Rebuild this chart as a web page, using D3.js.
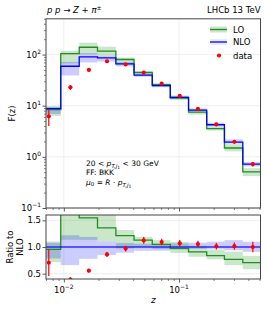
<!DOCTYPE html>
<html><head><meta charset="utf-8">
<script src="https://cdn.jsdelivr.net/npm/d3@7"></script>
<style>
body{margin:0;background:#fff}
svg{display:block}
text{font-family:"DejaVu Sans",sans-serif;fill:#000}
</style></head>
<body><svg id="c" width="267" height="312"></svg>
<script>
// ---- data ----
const binEdges = [0.0065, 0.0094, 0.0136, 0.0196, 0.0283, 0.0407, 0.0586, 0.084, 0.121, 0.174, 0.248, 0.358, 0.52];
const nloVal = [8.8, 59, 90, 86, 66, 39.5, 24.7, 14.5, 8.2, 4.24, 1.94, 0.72];
const nloLow = [6.9, 39, 70, 73, 59, 36.7, 23, 13.8, 7.9, 4.07, 1.82, 0.655];
const nloHigh = [9.5, 72, 107, 95, 71, 41.9, 26.2, 15.5, 8.86, 4.66, 2.19, 0.79];
const loVal = [8.4, 104, 139, 117, 80, 44.6, 25.9, 14.1, 7.46, 3.56, 1.49, 0.51];
const loLow = [6.3, 67, 102, 95, 64, 39.5, 23.7, 12.9, 6.7, 3.26, 1.28, 0.42];
const loHigh = [9.7, 118, 171, 142, 87, 47, 27.9, 15.9, 8.4, 4.03, 1.77, 0.60];
const dataZ = [0.0074, 0.0114, 0.0165, 0.0237, 0.0344, 0.0494, 0.0707, 0.1015, 0.146, 0.211, 0.3025, 0.4375];
const dataVal = [6.2, 22.9, 50, 74, 64, 44.4, 27, 15.5, 8.65, 4.3, 1.97, 0.72];
const dataErr = [2.2, 2.5, 3, 4, 3.5, 2.5, 1.5, 0.9, 0.5, 0.25, 0.13, 0.07];
const xMajorTicks = [0.01, 0.1];
const yMainMajor = [0.1, 1, 10, 100];
const yRatioTicks = [0.5, 1.0, 1.5];
const legendLabels = ["LO", "NLO", "data"];

// ---- layout ----
const svg = d3.select("#c");
const L = 46, R = 260.5;
const mainTop = 18.8, mainBot = 208, ratTop = 215, ratBot = 279;
const cLO = "#228b22", cLOband = "#2ca02c", cNLO = "#0000ff", cData = "#ff0000";

const x = d3.scaleLog().domain([0.007, 0.51]).range([L, R]);
const y = d3.scaleLog().domain([0.1, 500]).range([mainBot, mainTop]);
const yr = d3.scaleLinear().domain([0.4, 1.6]).range([ratBot, ratTop]);

const defs = svg.append("defs");
defs.append("clipPath").attr("id", "cm").append("rect").attr("x", L).attr("y", mainTop).attr("width", R - L).attr("height", mainBot - mainTop);
defs.append("clipPath").attr("id", "cr").append("rect").attr("x", L).attr("y", ratTop).attr("width", R - L).attr("height", ratBot - ratTop);

function minorX() {
  const t = [];
  for (let k = -3; k <= 0; k++) for (let m = 2; m <= 9; m++) {
    const v = m * Math.pow(10, k);
    if (v >= 0.007 && v <= 0.51) t.push(v);
  }
  return t;
}
function minorY() {
  const t = [];
  for (let k = -1; k <= 2; k++) for (let m = 2; m <= 9; m++) {
    const v = m * Math.pow(10, k);
    if (v <= 500) t.push(v);
  }
  return t;
}
function supLabel(sel, base, exp) {
  sel.text(base);
  sel.append("tspan").attr("dy", -4).attr("font-size", 6).text(exp);
}

function panel(g, ys, clip, top, bot, isMain) {
  // grid
  const grid = g.append("g").attr("stroke", "#ebebeb").attr("stroke-width", 0.8);
  xMajorTicks.forEach(v => grid.append("line").attr("x1", x(v)).attr("x2", x(v)).attr("y1", top).attr("y2", bot));
  (isMain ? yMainMajor : yRatioTicks).forEach(v => grid.append("line").attr("x1", L).attr("x2", R).attr("y1", ys(v)).attr("y2", ys(v)));
}

// ---------- MAIN PANEL ----------
const gm = svg.append("g");
panel(gm, y, "cm", mainTop, mainBot, true);
const pm = gm.append("g").attr("clip-path", "url(#cm)");

function bands(g, ys, lo, hi, color, op) {
  g.append("g").selectAll("rect").data(lo).join("rect")
    .attr("x", (d, i) => x(binEdges[i]))
    .attr("width", (d, i) => x(binEdges[i + 1]) - x(binEdges[i]))
    .attr("y", (d, i) => ys(hi[i]))
    .attr("height", (d, i) => Math.max(0, ys(lo[i]) - ys(hi[i])))
    .attr("fill", color).attr("fill-opacity", op);
}
function stepLine(g, ys, vals, color, w, op) {
  const pts = [];
  vals.forEach((v, i) => { pts.push([binEdges[i], v]); pts.push([binEdges[i + 1], v]); });
  g.append("path").attr("d", d3.line().x(d => x(d[0])).y(d => ys(d[1]))(pts))
    .attr("fill", "none").attr("stroke", color).attr("stroke-width", w).attr("stroke-opacity", op || 1);
}
function dataPts(g, ys, vals, errs) {
  const gg = g.append("g");
  gg.selectAll("line").data(vals).join("line")
    .attr("x1", (d, i) => x(dataZ[i])).attr("x2", (d, i) => x(dataZ[i]))
    .attr("y1", (d, i) => ys(d + errs[i])).attr("y2", (d, i) => ys(Math.max(d - errs[i], 1e-3)))
    .attr("stroke", cData).attr("stroke-width", 1.2);
  gg.selectAll("circle").data(vals).join("circle")
    .attr("cx", (d, i) => x(dataZ[i])).attr("cy", d => ys(d)).attr("r", 2.1).attr("fill", cData);
}

bands(pm, y, loLow, loHigh, cLOband, 0.25);
bands(pm, y, nloLow, nloHigh, cNLO, 0.2);
stepLine(pm, y, loVal, cLO, 1.3);
stepLine(pm, y, nloVal, cNLO, 1.3);
dataPts(pm, y, dataVal, dataErr);

// ---------- RATIO PANEL ----------
const gr = svg.append("g");
panel(gr, yr, "cr", ratTop, ratBot, false);
const pr = gr.append("g").attr("clip-path", "url(#cr)");
const ratio = (arr) => arr.map((v, i) => v / nloVal[i]);
bands(pr, yr, ratio(loLow), ratio(loHigh), cLOband, 0.25);
bands(pr, yr, ratio(nloLow), ratio(nloHigh), cNLO, 0.2);
stepLine(pr, yr, ratio(loVal), cLO, 1.3);
stepLine(pr, yr, ratio(nloVal), cNLO, 1.3, 0.75);
dataPts(pr, yr, ratio(dataVal), dataErr.map((e, i) => e / nloVal[i]));

// ---------- AXES ----------
function xAxis(yPos, labels) {
  const g = svg.append("g").attr("transform", `translate(0,${yPos})`);
  g.append("g").call(d3.axisBottom(x).tickValues(minorX()).tickSize(2).tickFormat(""))
    .call(s => s.select(".domain").remove()).selectAll("line").attr("stroke", "#333").attr("stroke-width", 0.6);
  const mj = g.append("g").call(d3.axisBottom(x).tickValues(xMajorTicks).tickSize(3.5).tickFormat(""));
  mj.select(".domain").remove();
  mj.selectAll("line").attr("stroke", "#333").attr("stroke-width", 0.8);
  if (labels) {
    xMajorTicks.forEach(v => {
      const t = svg.append("text").attr("x", x(v)).attr("y", yPos + 14).attr("text-anchor", "middle").attr("font-size", 8.5);
      supLabel(t, "10", "\u2212" + Math.round(-Math.log10(v)));
    });
  }
}
xAxis(mainBot, false);
xAxis(ratBot, true);

// main y axis
{
  const g = svg.append("g").attr("transform", `translate(${L},0)`);
  const mn = g.append("g").call(d3.axisLeft(y).tickValues(minorY()).tickSize(2).tickFormat(""));
  mn.select(".domain").remove();
  mn.selectAll("line").attr("stroke", "#333").attr("stroke-width", 0.6);
  const mj = g.append("g").call(d3.axisLeft(y).tickValues(yMainMajor).tickSize(3.5).tickFormat(""));
  mj.select(".domain").remove();
  mj.selectAll("line").attr("stroke", "#333").attr("stroke-width", 0.8);
  yMainMajor.forEach(v => {
    const e = Math.round(Math.log10(v));
    const t = svg.append("text").attr("x", L - 5).attr("y", y(v) + 3).attr("text-anchor", "end").attr("font-size", 8.5);
    t.text("10");
    t.append("tspan").attr("dy", -4).attr("font-size", 6).text(e < 0 ? "\u2212" + (-e) : String(e));
    // shift so superscript fits: anchor end includes tspan
  });
}
// ratio y axis
{
  const g = svg.append("g").attr("transform", `translate(${L},0)`);
  const mj = g.append("g").call(d3.axisLeft(yr).tickValues(yRatioTicks).tickSize(3.5).tickFormat(""));
  mj.select(".domain").remove();
  mj.selectAll("line").attr("stroke", "#333").attr("stroke-width", 0.8);
  yRatioTicks.forEach(v => {
    svg.append("text").attr("x", L - 5).attr("y", yr(v) + 3).attr("text-anchor", "end").attr("font-size", 8.5).text(d3.format(".1f")(v));
  });
}

// frames
[[mainTop, mainBot], [ratTop, ratBot]].forEach(([t, b]) => {
  svg.append("rect").attr("x", L).attr("y", t).attr("width", R - L).attr("height", b - t)
    .attr("fill", "none").attr("stroke", "#444").attr("stroke-width", 1);
});

// axis labels
svg.append("text").attr("transform", `translate(15,${(mainTop + mainBot) / 2}) rotate(-90)`).attr("text-anchor", "middle").attr("font-size", 8.5).text("F(z)");
const rl = svg.append("text").attr("transform", `translate(14,${(ratTop + ratBot) / 2}) rotate(-90)`).attr("text-anchor", "middle").attr("font-size", 8.5);
rl.append("tspan").attr("x", 0).attr("dy", -1).text("Ratio to");
rl.append("tspan").attr("x", 0).attr("dy", 10).text("NLO");
svg.append("text").attr("x", (L + R) / 2).attr("y", 303).attr("text-anchor", "middle").attr("font-size", 9).attr("font-style", "italic").text("z");

// titles
const tl = svg.append("text").attr("x", L + 1).attr("y", 13).attr("font-size", 8.5);
tl.append("tspan").attr("font-style", "italic").text("p p");
tl.append("tspan").text(" \u2192 ");
tl.append("tspan").attr("font-style", "italic").text("Z");
tl.append("tspan").text(" + ");
tl.append("tspan").attr("font-style", "italic").text("\u03c0");
tl.append("tspan").attr("dy", -3.5).attr("font-size", 6).text("\u00b1");
svg.append("text").attr("x", R).attr("y", 13).attr("text-anchor", "end").attr("font-size", 8.5).text("LHCb 13 TeV");

// legend
{
  const lx0 = 210, lx1 = 227, tx = 233;
  const ys = [29.5, 42, 55.5];
  svg.append("rect").attr("x", lx0).attr("y", ys[0] - 3).attr("width", lx1 - lx0).attr("height", 6).attr("fill", cLOband).attr("fill-opacity", 0.25);
  svg.append("line").attr("x1", lx0).attr("x2", lx1).attr("y1", ys[0]).attr("y2", ys[0]).attr("stroke", cLO).attr("stroke-width", 1.3);
  svg.append("rect").attr("x", lx0).attr("y", ys[1] - 3).attr("width", lx1 - lx0).attr("height", 6).attr("fill", cNLO).attr("fill-opacity", 0.08);
  svg.append("line").attr("x1", lx0).attr("x2", lx1).attr("y1", ys[1]).attr("y2", ys[1]).attr("stroke", cNLO).attr("stroke-width", 1.3);
  svg.append("circle").attr("cx", (lx0 + lx1) / 2 + 0.5).attr("cy", ys[2]).attr("r", 2.1).attr("fill", cData);
  legendLabels.forEach((t, i) => svg.append("text").attr("x", tx).attr("y", ys[i] + 3).attr("font-size", 8.5).text(t));
}

// annotation
{
  const ax = 86, f = "DejaVu Serif";
  const a1 = svg.append("text").attr("x", ax).attr("y", 166).attr("font-size", 7.5).attr("font-family", f);
  a1.append("tspan").text("20 < ");
  a1.append("tspan").attr("font-style", "italic").text("p");
  a1.append("tspan").attr("dy", 2).attr("font-size", 5.5).attr("font-style", "italic").text("T,j");
  a1.append("tspan").attr("dy", 1).attr("font-size", 4.5).text("1");
  a1.append("tspan").attr("dy", -3).text(" < 30 GeV");
  svg.append("text").attr("x", ax).attr("y", 175).attr("font-size", 7.5).attr("font-family", f).text("FF: BKK");
  const a3 = svg.append("text").attr("x", ax).attr("y", 184.5).attr("font-size", 7.5).attr("font-family", f);
  a3.append("tspan").attr("font-style", "italic").text("\u03bc");
  a3.append("tspan").attr("dy", 1.5).attr("font-size", 5.5).text("0");
  a3.append("tspan").attr("dy", -1.5).text(" = ");
  a3.append("tspan").attr("font-style", "italic").text("R");
  a3.append("tspan").text(" \u00b7 ");
  a3.append("tspan").attr("font-style", "italic").text("p");
  a3.append("tspan").attr("dy", 2).attr("font-size", 5.5).attr("font-style", "italic").text("T,j");
  a3.append("tspan").attr("dy", 1).attr("font-size", 4.5).text("1");
}
</script></body></html>
